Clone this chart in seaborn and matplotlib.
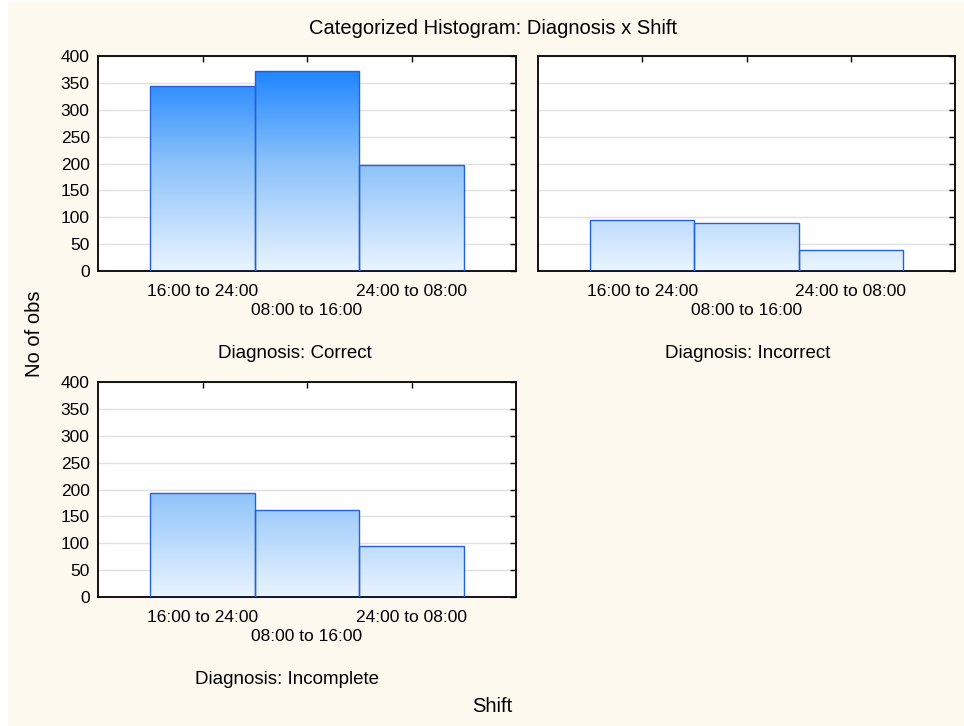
import numpy as np
import pandas as pd
import matplotlib
matplotlib.use("Agg")
import matplotlib.pyplot as plt
import seaborn as sns
from matplotlib.colors import LinearSegmentedColormap
from matplotlib.patches import Rectangle

# data
shifts = ["16:00 to 24:00", "08:00 to 16:00", "24:00 to 08:00"]
correct = [345, 372, 197]
incorrect = [94, 89, 40]
incomplete = [193, 162, 94]

df = pd.DataFrame({
    "shift": shifts * 3,
    "diagnosis": ["Correct"] * 3 + ["Incorrect"] * 3 + ["Incomplete"] * 3,
    "count": correct + incorrect + incomplete,
})

sns.set_style("white")
plt.rcParams["font.family"] = ["Liberation Sans", "DejaVu Sans"]
plt.rcParams["text.color"] = "black"

W, H = 964, 726
fig = plt.figure(figsize=(W / 100, H / 100), dpi=100, facecolor="white")
fig.patches.append(Rectangle((8 / W, 0), 1, 1 - 2 / H, transform=fig.transFigure,
                             facecolor="#FDF9EF", edgecolor="none", zorder=-10))

# gradient used for the bars (absolute in y, like the original)
cmap = LinearSegmentedColormap.from_list("blue_grad", ["#EAF4FF", "#8CC2FA", "#0E7CFF"])

# panel boxes in pixels: left, right, top, bottom
boxes = {
    "Correct": (98, 516, 56, 271),
    "Incorrect": (538, 955, 56, 271),
    "Incomplete": (98, 516, 382, 597),
}
label_pos = {"Correct": (295, 353), "Incorrect": (748, 353), "Incomplete": (287, 679)}

for diag, (l, r, t, b) in boxes.items():
    ax = fig.add_axes([l / W, 1 - b / H, (r - l) / W, (b - t) / H])
    ax.set_facecolor("white")
    sub = df[df["diagnosis"] == diag]
    sns.barplot(data=sub, x="shift", y="count", order=shifts, width=1,
                color="#8CC2FA", edgecolor="#2460DC", linewidth=1, ax=ax)
    for p in ax.patches:
        x0 = p.get_x()
        x1 = x0 + p.get_width()
        p.set_facecolor("none")
        p.set_zorder(3)
        grad = np.linspace(0, 1, 256).reshape(-1, 1)
        im = ax.imshow(grad, extent=(x0, x1, 0, 400), origin="lower", cmap=cmap,
                       aspect="auto", zorder=2, interpolation="bilinear")
        im.set_clip_path(p)
    ax.set_xlim(-1, 3)
    ax.set_ylim(0, 400)
    ax.set_yticks(range(0, 401, 50))
    ax.set_xticks(range(3))
    ax.set_xticklabels([shifts[0], "\n" + shifts[1], shifts[2]])
    for lab in ax.get_xticklabels():
        lab.set_linespacing(1.4)
    ax.set_xlabel("")
    ax.set_ylabel("")
    ax.set_axisbelow(True)
    ax.yaxis.grid(True, color="#E0E0E0", linewidth=1)
    ax.xaxis.grid(False)
    ax.tick_params(axis="both", direction="in", top=True, right=True, length=4,
                   width=1, labelsize=12.5, colors="black")
    ax.tick_params(axis="x", pad=9)
    ax.tick_params(axis="y", pad=6)
    if diag == "Incorrect":
        ax.tick_params(axis="y", labelleft=False)
    for s in ax.spines.values():
        s.set_visible(True)
        s.set_color("black")
        s.set_linewidth(1.3)
    lx, ly = label_pos[diag]
    fig.text(lx / W, 1 - ly / H, "Diagnosis: " + diag, ha="center", va="center", fontsize=13.5)

fig.text(493 / W, 1 - 28 / H, "Categorized Histogram: Diagnosis x Shift",
         ha="center", va="center", fontsize=14.5)
fig.text(35 / W, 1 - 334 / H, "No of obs", rotation=90, ha="center", va="center", fontsize=14.5)
fig.text(492 / W, 1 - 706 / H, "Shift", ha="center", va="center", fontsize=14.5)

fig.savefig("out.png", dpi=100, facecolor=fig.get_facecolor())
